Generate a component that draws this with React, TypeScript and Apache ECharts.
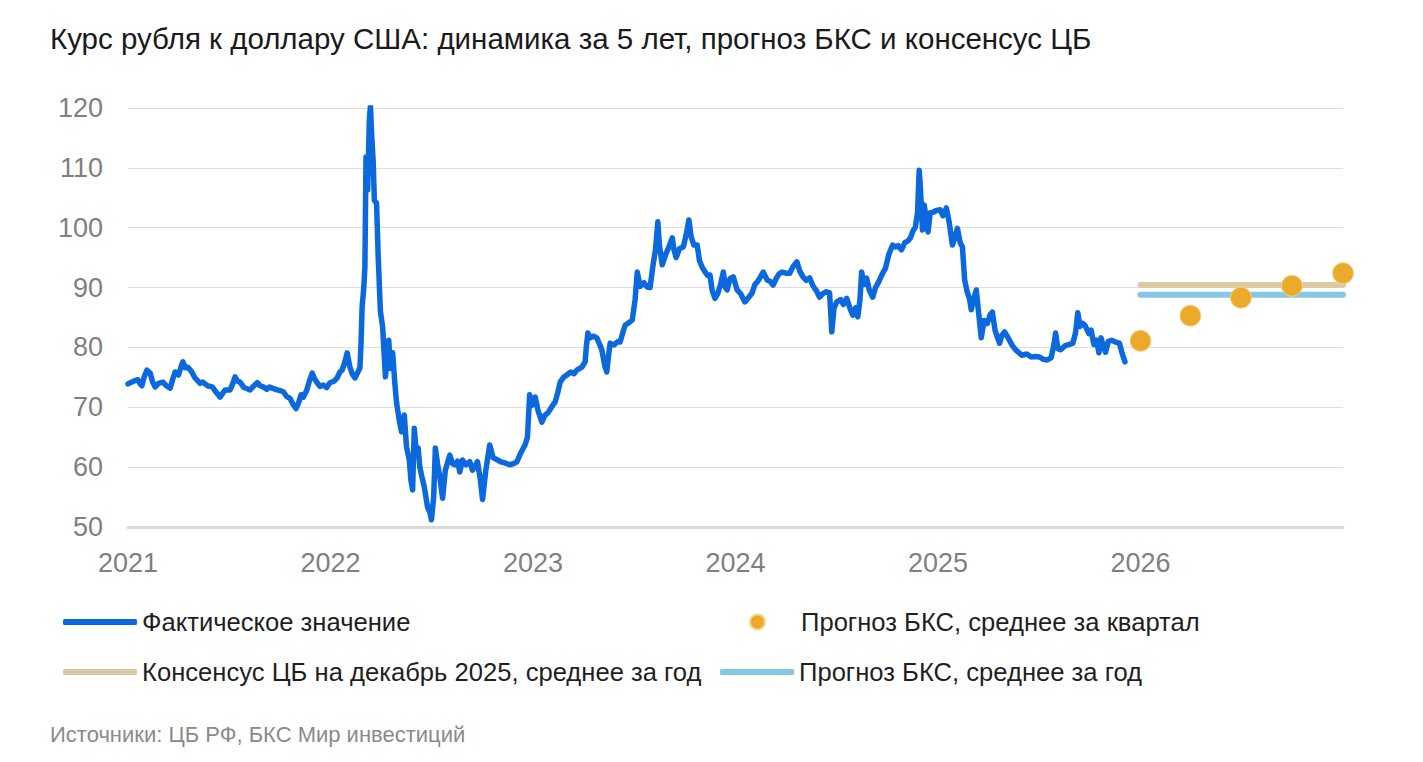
import React, { useEffect, useRef } from 'react';
import * as echarts from 'echarts';

const TITLE = 'Курс рубля к доллару США: динамика за 5 лет, прогноз БКС и консенсус ЦБ';
const SOURCE = 'Источники: ЦБ РФ, БКС Мир инвестиций';

const SERIES_ACTUAL = 'Фактическое значение';
const SERIES_CONSENSUS = 'Консенсус ЦБ на декабрь 2025, среднее за год';
const SERIES_BCS_YEAR = 'Прогноз БКС, среднее за год';
const SERIES_BCS_Q = 'Прогноз БКС, среднее за квартал';

const yearTicks = [2021, 2022, 2023, 2024, 2025, 2026];

const actual: [string, number][] = [
  ['2021-01-01', 73.9], ['2021-01-05', 74.1], ['2021-01-12', 74.4], ['2021-01-19', 74.6], ['2021-01-23', 73.9], ['2021-01-26', 73.6], ['2021-01-30', 75.0], ['2021-02-04', 76.2], ['2021-02-10', 75.7], ['2021-02-14', 74.3], ['2021-02-19', 73.4], ['2021-02-25', 74.0], ['2021-03-05', 74.2], ['2021-03-11', 73.6], ['2021-03-18', 73.2], ['2021-03-23', 74.8], ['2021-03-27', 75.9], ['2021-04-02', 75.4], ['2021-04-07', 76.9], ['2021-04-10', 77.6], ['2021-04-14', 76.6], ['2021-04-19', 76.7], ['2021-04-26', 75.9], ['2021-05-01', 75.0], ['2021-05-05', 74.6], ['2021-05-11', 74.0], ['2021-05-16', 74.2], ['2021-05-24', 73.6], ['2021-06-02', 73.4], ['2021-06-09', 72.5], ['2021-06-16', 71.7], ['2021-06-21', 72.4], ['2021-06-25', 72.9], ['2021-07-04', 72.9], ['2021-07-09', 74.0], ['2021-07-13', 75.1], ['2021-07-17', 74.4], ['2021-07-22', 74.2], ['2021-07-29', 73.3], ['2021-08-04', 73.1], ['2021-08-09', 72.9], ['2021-08-15', 73.5], ['2021-08-22', 74.1], ['2021-08-27', 73.6], ['2021-09-02', 73.4], ['2021-09-08', 73.0], ['2021-09-13', 73.4], ['2021-09-18', 73.2], ['2021-09-27', 72.9], ['2021-10-02', 72.8], ['2021-10-08', 72.6], ['2021-10-14', 71.8], ['2021-10-20', 71.5], ['2021-10-26', 70.4], ['2021-10-31', 69.8], ['2021-11-05', 70.9], ['2021-11-09', 72.1], ['2021-11-13', 71.7], ['2021-11-19', 72.8], ['2021-11-24', 74.4], ['2021-11-29', 75.7], ['2021-12-03', 74.8], ['2021-12-08', 74.1], ['2021-12-13', 73.5], ['2021-12-19', 73.7], ['2021-12-25', 73.3], ['2021-12-31', 74.1],
  ['2022-01-08', 74.4], ['2022-01-13', 74.9], ['2022-01-18', 75.9], ['2022-01-22', 76.2], ['2022-01-27', 77.6], ['2022-01-31', 79.1], ['2022-02-05', 76.7], ['2022-02-10', 75.4], ['2022-02-14', 74.9], ['2022-02-19', 75.8], ['2022-02-23', 76.6], ['2022-02-25', 80.5], ['2022-02-27', 86.8], ['2022-03-02', 90.0], ['2022-03-04', 93.4], ['2022-03-06', 111.8], ['2022-03-09', 106.3], ['2022-03-12', 118.0], ['2022-03-14', 120.4], ['2022-03-16', 115.8], ['2022-03-19', 111.0], ['2022-03-21', 104.6], ['2022-03-25', 104.1], ['2022-03-28', 95.1], ['2022-04-01', 86.0], ['2022-04-05', 83.4], ['2022-04-10', 75.1], ['2022-04-16', 81.2], ['2022-04-19', 76.5], ['2022-04-23', 79.1], ['2022-04-27', 74.0], ['2022-04-30', 70.8], ['2022-05-05', 67.8], ['2022-05-09', 65.9], ['2022-05-14', 68.7], ['2022-05-18', 63.4], ['2022-05-23', 61.2], ['2022-05-26', 57.8], ['2022-05-29', 56.2], ['2022-06-01', 66.5], ['2022-06-05', 62.0], ['2022-06-08', 63.2], ['2022-06-11', 60.0], ['2022-06-15', 58.3], ['2022-06-19', 56.7], ['2022-06-25', 53.3], ['2022-06-29', 52.5], ['2022-07-02', 51.2], ['2022-07-06', 55.0], ['2022-07-09', 63.2], ['2022-07-13', 60.5], ['2022-07-17', 58.4], ['2022-07-22', 54.8], ['2022-07-27', 59.5], ['2022-08-04', 62.0], ['2022-08-09', 60.6], ['2022-08-13', 60.4], ['2022-08-18', 61.0], ['2022-08-22', 59.2], ['2022-08-27', 61.2], ['2022-09-02', 60.4], ['2022-09-09', 60.9], ['2022-09-14', 59.5], ['2022-09-19', 60.3], ['2022-09-23', 60.9], ['2022-09-28', 58.0], ['2022-10-02', 54.6], ['2022-10-08', 59.5], ['2022-10-15', 63.7], ['2022-10-21', 61.6], ['2022-10-29', 61.2], ['2022-11-04', 60.9], ['2022-11-11', 60.7], ['2022-11-20', 60.4], ['2022-11-27', 60.6], ['2022-12-03', 60.9], ['2022-12-09', 62.2], ['2022-12-13', 62.9], ['2022-12-18', 63.8], ['2022-12-22', 65.0], ['2022-12-26', 72.1], ['2022-12-30', 70.3],
  ['2023-01-05', 71.7], ['2023-01-10', 69.5], ['2023-01-17', 67.5], ['2023-01-22', 68.6], ['2023-01-28', 69.1], ['2023-02-04', 70.1], ['2023-02-10', 70.9], ['2023-02-15', 72.6], ['2023-02-19', 74.2], ['2023-02-25', 75.0], ['2023-03-03', 75.4], ['2023-03-10', 75.9], ['2023-03-16', 75.6], ['2023-03-21', 76.2], ['2023-03-30', 76.7], ['2023-04-05', 77.6], ['2023-04-07', 80.0], ['2023-04-10', 82.4], ['2023-04-14', 81.6], ['2023-04-20', 81.9], ['2023-04-26', 81.6], ['2023-05-02', 80.3], ['2023-05-05', 79.6], ['2023-05-11', 76.7], ['2023-05-14', 75.9], ['2023-05-17', 78.5], ['2023-05-20', 80.7], ['2023-05-27', 80.4], ['2023-06-03', 81.0], ['2023-06-07', 80.9], ['2023-06-12', 82.5], ['2023-06-16', 83.7], ['2023-06-24', 84.2], ['2023-06-29', 84.6], ['2023-07-04', 88.0], ['2023-07-08', 92.6], ['2023-07-13', 90.2], ['2023-07-20', 90.8], ['2023-07-26', 90.1], ['2023-07-31', 90.0], ['2023-08-05', 93.5], ['2023-08-10', 96.5], ['2023-08-14', 101.0], ['2023-08-17', 97.0], ['2023-08-22', 93.8], ['2023-08-28', 95.5], ['2023-09-03', 96.8], ['2023-09-09', 98.3], ['2023-09-12', 96.4], ['2023-09-16', 95.0], ['2023-09-22', 96.5], ['2023-09-29', 96.8], ['2023-10-04', 98.8], ['2023-10-09', 101.3], ['2023-10-13', 98.5], ['2023-10-18', 97.1], ['2023-10-24', 97.1], ['2023-10-28', 94.5], ['2023-11-02', 93.4], ['2023-11-08', 92.5], ['2023-11-12', 92.0], ['2023-11-16', 92.1], ['2023-11-20', 89.5], ['2023-11-25', 88.2], ['2023-11-30', 89.0], ['2023-12-05', 90.5], ['2023-12-10', 92.6], ['2023-12-14', 90.0], ['2023-12-17', 89.6], ['2023-12-22', 91.5], ['2023-12-28', 91.8],
  ['2024-01-04', 89.6], ['2024-01-10', 89.0], ['2024-01-18', 87.6], ['2024-01-25', 88.4], ['2024-01-31', 89.1], ['2024-02-05', 90.5], ['2024-02-09', 90.9], ['2024-02-14', 91.6], ['2024-02-20', 92.6], ['2024-02-27', 91.3], ['2024-03-04', 91.0], ['2024-03-09', 90.4], ['2024-03-15', 91.6], ['2024-03-20', 92.3], ['2024-03-25', 92.6], ['2024-04-01', 92.4], ['2024-04-08', 92.4], ['2024-04-14', 93.5], ['2024-04-21', 94.3], ['2024-04-26', 92.8], ['2024-05-02', 91.8], ['2024-05-08', 91.2], ['2024-05-14', 91.6], ['2024-05-20', 90.3], ['2024-05-26', 89.5], ['2024-06-01', 88.4], ['2024-06-07', 89.0], ['2024-06-13', 89.3], ['2024-06-19', 89.1], ['2024-06-21', 86.0], ['2024-06-23', 82.6], ['2024-06-27', 86.5], ['2024-07-02', 87.6], ['2024-07-09', 88.0], ['2024-07-14', 87.2], ['2024-07-20', 88.2], ['2024-07-26', 86.5], ['2024-07-31', 85.4], ['2024-08-05', 86.6], ['2024-08-09', 85.1], ['2024-08-13', 88.0], ['2024-08-16', 92.6], ['2024-08-20', 90.5], ['2024-08-25', 91.6], ['2024-08-30', 89.5], ['2024-09-05', 88.4], ['2024-09-10', 90.0], ['2024-09-16', 91.0], ['2024-09-23', 92.4], ['2024-09-28', 93.2], ['2024-10-04', 95.5], ['2024-10-11', 97.1], ['2024-10-16', 96.8], ['2024-10-21', 97.0], ['2024-10-27', 96.3], ['2024-11-02', 97.5], ['2024-11-08', 97.8], ['2024-11-12', 98.3], ['2024-11-17', 99.5], ['2024-11-21', 100.1], ['2024-11-25', 102.5], ['2024-11-28', 109.6], ['2024-11-30', 107.0], ['2024-12-04', 99.6], ['2024-12-07', 103.8], ['2024-12-10', 102.0], ['2024-12-14', 99.3], ['2024-12-18', 102.5], ['2024-12-24', 102.6], ['2024-12-29', 102.9],
  ['2025-01-05', 103.0], ['2025-01-10', 102.0], ['2025-01-16', 103.3], ['2025-01-21', 101.0], ['2025-01-27', 97.1], ['2025-02-01', 98.5], ['2025-02-05', 99.9], ['2025-02-10', 97.5], ['2025-02-14', 96.8], ['2025-02-18', 91.3], ['2025-02-22', 89.5], ['2025-02-27', 88.0], ['2025-03-02', 86.3], ['2025-03-06', 88.0], ['2025-03-11', 89.6], ['2025-03-15', 86.0], ['2025-03-20', 81.6], ['2025-03-25', 84.5], ['2025-03-31', 84.0], ['2025-04-05', 85.5], ['2025-04-09', 85.9], ['2025-04-14', 82.8], ['2025-04-22', 80.7], ['2025-04-26', 82.0], ['2025-05-01', 82.6], ['2025-05-08', 81.5], ['2025-05-15', 80.3], ['2025-05-22', 79.5], ['2025-06-01', 78.7], ['2025-06-10', 78.9], ['2025-06-18', 78.4], ['2025-06-26', 78.5], ['2025-07-03', 78.4], ['2025-07-10', 78.0], ['2025-07-17', 77.9], ['2025-07-24', 78.3], ['2025-07-29', 80.5], ['2025-08-01', 82.4], ['2025-08-05', 79.8], ['2025-08-10', 79.6], ['2025-08-18', 80.3], ['2025-08-26', 80.5], ['2025-09-01', 80.7], ['2025-09-06', 82.5], ['2025-09-10', 85.8], ['2025-09-14', 83.5], ['2025-09-19', 84.0], ['2025-09-23', 83.7], ['2025-09-30', 82.3], ['2025-10-04', 82.9], ['2025-10-09', 80.5], ['2025-10-14', 81.2], ['2025-10-18', 79.1], ['2025-10-22', 81.6], ['2025-10-26', 80.2], ['2025-10-30', 79.2], ['2025-11-04', 81.0], ['2025-11-10', 81.2], ['2025-11-17', 80.9], ['2025-11-24', 80.7], ['2025-11-29', 79.0], ['2025-12-04', 77.6],
];

const quarterDates = ['2026-01-01', '2026-04-01', '2026-07-01', '2026-10-01', '2027-01-01'];
const quarterValues = [81.1, 85.3, 88.3, 90.3, 92.4];

const yearSpan = ['2026-01-01', '2027-01-01'];
const consensusValue = 90.45;
const bcsYearValue = 88.8;

const toYear = (s: string): number => {
  const [y, m, d] = s.split('-').map(Number);
  const t = Date.UTC(y, m - 1, d);
  const a = Date.UTC(y, 0, 1);
  const b = Date.UTC(y + 1, 0, 1);
  return y + (t - a) / (b - a);
};

const FONT = '"Liberation Sans", Arial, sans-serif';
const C_ACTUAL = '#0b69dd';
const C_CONS = '#dccaa2';
const C_BCSY = '#86c8e3';
const C_BCSQ = '#ebaa2b';

export default function App() {
  const ref = useRef<HTMLDivElement>(null);
  useEffect(() => {
    if (!ref.current) return;
    const chart = echarts.init(ref.current, undefined, { renderer: 'svg' });
    const legendText = { fontSize: 25.6, color: '#1f1f1f', fontFamily: FONT };
    chart.setOption({
      animation: false,
      backgroundColor: '#ffffff',
      textStyle: { fontFamily: FONT },
      title: {
        text: TITLE,
        left: 50,
        top: 23,
        padding: 0,
        textStyle: { fontSize: 29.5, fontWeight: 'normal', color: '#1a1a1a', fontFamily: FONT },
      },
      grid: { left: 128, right: 80, top: 108, bottom: 235, containLabel: false },
      xAxis: {
        type: 'value',
        min: 2021,
        max: 2027,
        interval: 1,
        axisLine: { show: true, lineStyle: { color: '#d9d9d9', width: 3 } },
        axisTick: { show: false },
        splitLine: { show: false },
        axisLabel: {
          margin: 22,
          fontSize: 27,
          color: '#7f7f7f',
          fontFamily: FONT,
          formatter: (v: number) => (yearTicks.includes(v) ? String(v) : ''),
        },
      },
      yAxis: {
        type: 'value',
        min: 50,
        max: 120,
        interval: 10,
        axisLine: { show: false },
        axisTick: { show: false },
        splitLine: { show: true, lineStyle: { color: '#dedede', width: 1 } },
        axisLabel: { margin: 25, fontSize: 27, color: '#7f7f7f', fontFamily: FONT },
      },
      legend: [
        {
          data: [{ name: SERIES_ACTUAL, icon: 'roundRect' }], left: 63, top: 609, padding: 0, itemWidth: 74, itemHeight: 6,
          textStyle: legendText, selectedMode: false,
        },
        {
          data: [{ name: SERIES_CONSENSUS, icon: 'roundRect' }], left: 63, top: 659, padding: 0, itemWidth: 74, itemHeight: 6,
          textStyle: legendText, selectedMode: false,
        },
        {
          data: [{ name: SERIES_BCS_Q, icon: 'circle', itemStyle: { borderColor: '#f6d58e', borderWidth: 2 } }],
          left: 749, top: 609, padding: 0, itemWidth: 15, itemHeight: 15,
          textStyle: { ...legendText, padding: [0, 0, 0, 31] }, selectedMode: false,
        },
        {
          data: [{ name: SERIES_BCS_YEAR, icon: 'roundRect' }], left: 720, top: 659, padding: 0, itemWidth: 74, itemHeight: 6,
          textStyle: legendText, selectedMode: false,
        },
      ],
      graphic: [
        {
          type: 'text',
          left: 50,
          top: 723,
          style: { text: SOURCE, fontSize: 22, fill: '#8a8a8a', fontFamily: FONT },
        },
      ],
      series: [
        {
          name: SERIES_CONSENSUS,
          type: 'line',
          data: yearSpan.map((d) => [toYear(d), consensusValue]),
          showSymbol: false,
          symbol: 'none',
          lineStyle: { color: C_CONS, width: 6, cap: 'round' },
          itemStyle: { color: C_CONS },
          z: 2,
        },
        {
          name: SERIES_BCS_YEAR,
          type: 'line',
          data: yearSpan.map((d) => [toYear(d), bcsYearValue]),
          showSymbol: false,
          symbol: 'none',
          lineStyle: { color: C_BCSY, width: 6, cap: 'round' },
          itemStyle: { color: C_BCSY },
          z: 2,
        },
        {
          name: SERIES_ACTUAL,
          type: 'line',
          data: actual.map(([d, v]) => [toYear(d), v]),
          showSymbol: false,
          symbol: 'none',
          lineStyle: { color: C_ACTUAL, width: 5.5, join: 'round', cap: 'round' },
          itemStyle: { color: C_ACTUAL },
          z: 3,
        },
        {
          name: SERIES_BCS_Q,
          type: 'scatter',
          data: quarterDates.map((d, i) => [toYear(d), quarterValues[i]]),
          symbol: 'circle',
          symbolSize: 21,
          itemStyle: { color: C_BCSQ, borderColor: 'rgba(246,214,140,0.9)', borderWidth: 1, opacity: 1 },
          z: 4,
        },
      ],
    });
    return () => chart.dispose();
  }, []);
  return (
    <div
      ref={ref}
      style={{ position: 'fixed', left: 0, top: 0, width: 1423, height: 762, background: '#fff' }}
    />
  );
}
